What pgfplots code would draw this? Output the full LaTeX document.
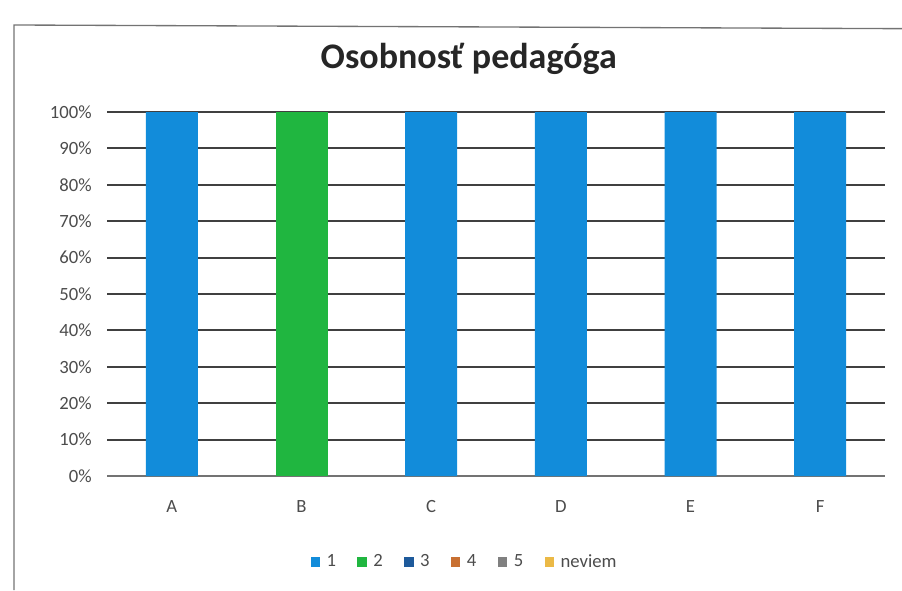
\documentclass[border=0pt]{standalone}
\usepackage{fontspec}
\setmainfont{Carlito}
\usepackage{pgfplots}
\pgfplotsset{compat=1.18}
\definecolor{c1}{RGB}{18,140,218}
\definecolor{c2}{RGB}{32,182,64}
\definecolor{c3}{RGB}{30,90,155}
\definecolor{c4}{RGB}{200,112,50}
\definecolor{c5}{RGB}{128,128,128}
\definecolor{c6}{RGB}{235,185,70}
\begin{document}
\begin{tikzpicture}
\useasboundingbox (0,0) rectangle (676.5pt,442.5pt);
\draw[black!55, line width=1pt] (10.5pt,0) -- (10.5pt,423.75pt) -- (676.5pt,421pt);
\begin{axis}[
  at={(80.25pt,85.5pt)}, anchor=south west,
  scale only axis, width=583.5pt, height=273pt,
  ybar stacked, bar width=39pt,
  xmin=-0.5, xmax=5.5, ymin=0, ymax=100,
  xtick={0,1,2,3,4,5}, xticklabels={A,B,C,D,E,F},
  ytick={0,10,...,100},
  yticklabel={\pgfmathprintnumber{\tick}\%},
  /pgf/number format/assume math mode=true,
  major tick length=0pt,
  axis x line*=bottom, axis y line*=left,
  y axis line style={draw=none},
  x axis line style={draw=black!55, line width=1.4pt, -},
  ymajorgrids, grid style={black!75, line width=1.6pt},
  tick label style={font=\fontsize{14}{15}\selectfont, text=black!70},
  xticklabel style={yshift=-15pt},
  yticklabel style={xshift=-8pt},
  title={Osobnosť pedagóga},
  title style={at={(axis description cs:0.465,1.124)}, anchor=center, font=\fontsize{27}{29}\selectfont\bfseries, text=black!85},
  legend columns=6,
  legend style={at={(axis description cs:0.46,-0.236)}, anchor=center, draw=none, font=\fontsize{14}{15}\selectfont, text=black!70, /tikz/every odd column/.append style={column sep=3pt}, /tikz/every even column/.append style={column sep=14pt}},
  legend image code/.code={\fill[#1] (0pt,-3.5pt) rectangle (7pt,3.5pt);},
  every axis plot/.append style={draw=none},
]
\addplot[fill=c1] coordinates {(0,100) (1,0) (2,100) (3,100) (4,100) (5,100)};
\addplot[fill=c2] coordinates {(0,0) (1,100) (2,0) (3,0) (4,0) (5,0)};
\addplot[fill=c3] coordinates {(0,0) (1,0) (2,0) (3,0) (4,0) (5,0)};
\addplot[fill=c4] coordinates {(0,0) (1,0) (2,0) (3,0) (4,0) (5,0)};
\addplot[fill=c5] coordinates {(0,0) (1,0) (2,0) (3,0) (4,0) (5,0)};
\addplot[fill=c6] coordinates {(0,0) (1,0) (2,0) (3,0) (4,0) (5,0)};
\legend{1,2,3,4,5,neviem}
\end{axis}
\end{tikzpicture}
\end{document}
